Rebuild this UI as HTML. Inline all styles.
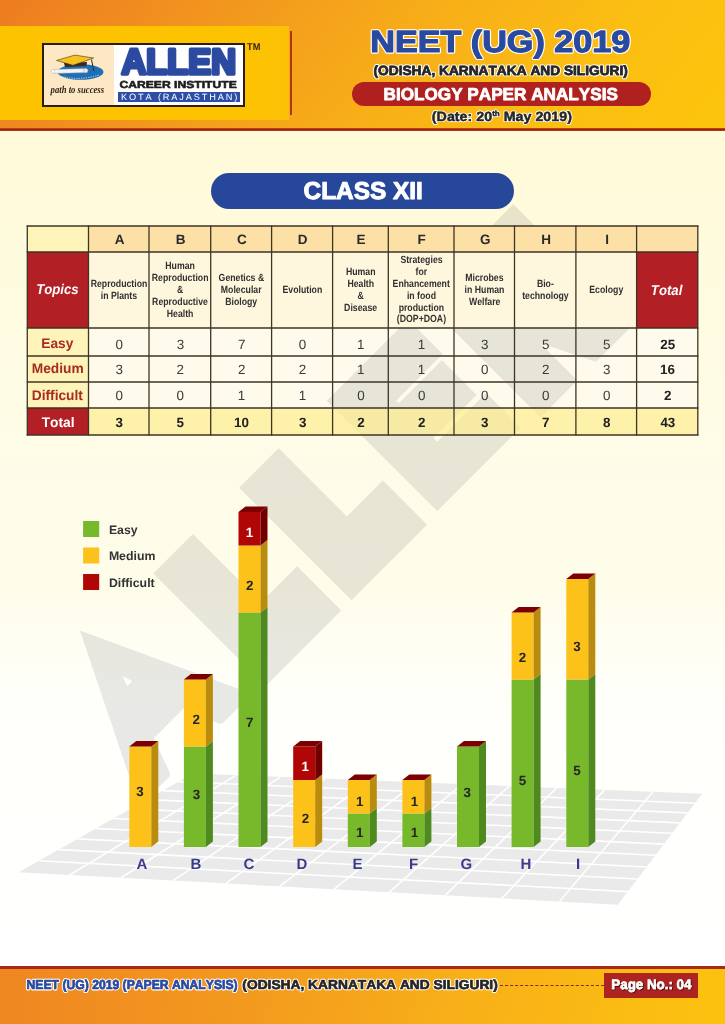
<!DOCTYPE html>
<html><head><meta charset="utf-8">
<style>
*{margin:0;padding:0;box-sizing:border-box}
html,body{width:725px;height:1024px;overflow:hidden}
body{position:relative;font-family:"Liberation Sans",Arial,sans-serif;background:linear-gradient(180deg,#fffad8 130px,#fffbe0 300px,#fefce8 470px,#fefdea 590px,#fffffa 690px,#ffffff 965px)}
.abs{position:absolute}
svg{position:absolute;left:0;top:0;overflow:visible}
svg text{font-family:"Liberation Sans",Arial,sans-serif;font-kerning:none;text-rendering:geometricPrecision}
#hdr{position:absolute;left:0;top:0;width:725px;height:129px;background:linear-gradient(128deg,#ed7c20 0%,#f08a20 15%,#f4a01c 38%,#f8b117 58%,#fbbe12 78%,#fdc50c 100%)}
#hdrline{position:absolute;left:0;top:128px;width:725px;height:3px;background:linear-gradient(180deg,#d8561c 0,#9c2410 40%,#9c2410 80%,#e8a070 100%)}
#panel{position:absolute;left:0;top:26px;width:289px;height:94px;background:linear-gradient(90deg,#fdc200,#fdc300 80%,#fcc106)}
#vline{position:absolute;left:290px;top:31px;width:2px;height:84px;background:#b3341a}
#logo{position:absolute;left:42px;top:43px;width:203px;height:64px;border:2px solid #2a1e12;background:#fff}
#logoL{position:absolute;left:0;top:0;width:70px;height:60px;background:#fde7c5}
#wm{mix-blend-mode:multiply}
</style></head>
<body>
<div id="hdr"></div>
<div id="panel"></div>
<div id="vline"></div>
<div id="hdrline"></div>
<div id="logo"><div id="logoL"></div></div>
<div class="abs" style="left:117.7px;top:91.8px;width:121.9px;height:10.4px;background:#2c4ea6"></div>
<div class="abs" style="left:351.5px;top:81.6px;width:299.5px;height:24.2px;border-radius:12.1px;background:#b0201f"></div>
<div class="abs" style="left:211px;top:173px;width:303px;height:36px;border-radius:18px;background:#27479b"></div>

<svg width="725" height="1024" viewBox="0 0 725 1024">
<rect x="27.3" y="226.0" width="61.2" height="26.0" fill="#fef3b8"/>
<rect x="88.5" y="226.0" width="609.3" height="26.0" fill="#fde0a6"/>
<rect x="27.3" y="252.0" width="61.2" height="76.0" fill="#b21f24"/>
<rect x="88.5" y="252.0" width="548.1" height="76.0" fill="#fef6dd"/>
<rect x="636.6" y="252.0" width="61.2" height="76.0" fill="#b21f24"/>
<rect x="27.3" y="328.0" width="61.2" height="80.0" fill="#fef3b8"/>
<rect x="88.5" y="328.0" width="609.3" height="80.0" fill="#fefbec"/>
<rect x="27.3" y="408.0" width="61.2" height="27.0" fill="#b21f24"/>
<rect x="88.5" y="408.0" width="609.3" height="27.0" fill="#fdf1a9"/>
</svg>

<svg id="wm" width="725" height="1024" viewBox="0 0 725 1024">
<g transform="translate(140.4 811.6) rotate(-45) scale(6) translate(-120.4 -76.3)"><clipPath id="wmA"><polygon points="120.9,75.6 134.6,47.9 147.4,75.6"/></clipPath><g clip-path="url(#wmA)"><text transform="translate(119.27 73.90) scale(1.0218 1)" font-size="40.55" font-weight="bold" font-style="normal" style='font-family:"Liberation Sans",Arial,sans-serif' fill="#e8e8ea" stroke="#e8e8ea" stroke-width="4.89" stroke-linejoin="round" >A</text></g><text transform="translate(151.46 72.60) scale(0.8239 1)" font-size="27.91" font-weight="bold" font-style="normal" style='font-family:"Liberation Sans",Arial,sans-serif' fill="#e8e8ea" stroke="#e8e8ea" stroke-width="7.28" stroke-linejoin="miter" >L</text><text transform="translate(171.66 72.60) scale(0.8239 1)" font-size="27.91" font-weight="bold" font-style="normal" style='font-family:"Liberation Sans",Arial,sans-serif' fill="#e8e8ea" stroke="#e8e8ea" stroke-width="7.28" stroke-linejoin="miter" >L</text><text transform="translate(191.05 73.50) scale(0.8924 1)" font-size="30.96" font-weight="bold" font-style="normal" style='font-family:"Liberation Sans",Arial,sans-serif' fill="#e8e8ea" stroke="#e8e8ea" stroke-width="4.71" stroke-linejoin="miter" >E</text><text transform="translate(214.58 74.10) scale(0.8751 1)" font-size="32.85" font-weight="bold" font-style="normal" style='font-family:"Liberation Sans",Arial,sans-serif' fill="#e8e8ea" stroke="#e8e8ea" stroke-width="5.71" stroke-linejoin="miter" >N</text></g>
</svg>

<svg width="725" height="1024" viewBox="0 0 725 1024">
<rect x="27.3" y="226.0" width="61.2" height="26.0" fill="#fef3b8"/>
<rect x="88.5" y="226.0" width="609.3" height="26.0" fill="#fde0a6"/>
<rect x="27.3" y="252.0" width="61.2" height="76.0" fill="#b21f24"/>
<rect x="88.5" y="252.0" width="548.1" height="76.0" fill="#fef6dd"/>
<rect x="636.6" y="252.0" width="61.2" height="76.0" fill="#b21f24"/>
<g opacity="0.7"><rect x="88.5" y="408.0" width="609.3" height="27.0" fill="#fdf1a9"/></g><line x1="27.3" y1="225.4" x2="27.3" y2="435.6" stroke="#3d3526" stroke-width="1.3"/>
<line x1="88.5" y1="225.4" x2="88.5" y2="435.6" stroke="#3d3526" stroke-width="1.3"/>
<line x1="149.0" y1="225.4" x2="149.0" y2="435.6" stroke="#3d3526" stroke-width="1.3"/>
<line x1="210.7" y1="225.4" x2="210.7" y2="435.6" stroke="#3d3526" stroke-width="1.3"/>
<line x1="271.6" y1="225.4" x2="271.6" y2="435.6" stroke="#3d3526" stroke-width="1.3"/>
<line x1="332.6" y1="225.4" x2="332.6" y2="435.6" stroke="#3d3526" stroke-width="1.3"/>
<line x1="388.3" y1="225.4" x2="388.3" y2="435.6" stroke="#3d3526" stroke-width="1.3"/>
<line x1="454.0" y1="225.4" x2="454.0" y2="435.6" stroke="#3d3526" stroke-width="1.3"/>
<line x1="514.5" y1="225.4" x2="514.5" y2="435.6" stroke="#3d3526" stroke-width="1.3"/>
<line x1="575.9" y1="225.4" x2="575.9" y2="435.6" stroke="#3d3526" stroke-width="1.3"/>
<line x1="636.6" y1="225.4" x2="636.6" y2="435.6" stroke="#3d3526" stroke-width="1.3"/>
<line x1="697.8" y1="225.4" x2="697.8" y2="435.6" stroke="#3d3526" stroke-width="1.3"/>
<line x1="26.7" y1="226.0" x2="698.4" y2="226.0" stroke="#3d3526" stroke-width="1.3"/>
<line x1="26.7" y1="252.0" x2="698.4" y2="252.0" stroke="#3d3526" stroke-width="1.3"/>
<line x1="26.7" y1="328.0" x2="698.4" y2="328.0" stroke="#3d3526" stroke-width="1.3"/>
<line x1="26.7" y1="356.0" x2="698.4" y2="356.0" stroke="#3d3526" stroke-width="1.3"/>
<line x1="26.7" y1="382.0" x2="698.4" y2="382.0" stroke="#3d3526" stroke-width="1.3"/>
<line x1="26.7" y1="408.0" x2="698.4" y2="408.0" stroke="#3d3526" stroke-width="1.3"/>
<line x1="26.7" y1="435.0" x2="698.4" y2="435.0" stroke="#3d3526" stroke-width="1.3"/>
</svg>

<svg width="725" height="1024" viewBox="0 0 725 1024">
<polygon points="18.7,872.2 617.8,904.7 702.2,793.8 192.9,773.4" fill="#eaeaea"/>
<line x1="39.0" y1="860.7" x2="627.8" y2="891.6" stroke="#fff" stroke-width="1.6"/>
<line x1="58.6" y1="849.6" x2="637.3" y2="879.0" stroke="#fff" stroke-width="1.6"/>
<line x1="77.5" y1="838.9" x2="646.5" y2="867.0" stroke="#fff" stroke-width="1.6"/>
<line x1="95.7" y1="828.5" x2="655.4" y2="855.3" stroke="#fff" stroke-width="1.6"/>
<line x1="113.3" y1="818.5" x2="663.9" y2="844.1" stroke="#fff" stroke-width="1.6"/>
<line x1="130.3" y1="808.9" x2="672.1" y2="833.3" stroke="#fff" stroke-width="1.6"/>
<line x1="146.7" y1="799.6" x2="680.0" y2="822.9" stroke="#fff" stroke-width="1.6"/>
<line x1="162.6" y1="790.6" x2="687.7" y2="812.9" stroke="#fff" stroke-width="1.6"/>
<line x1="178.0" y1="781.8" x2="695.1" y2="803.2" stroke="#fff" stroke-width="1.6"/>
<line x1="69.5" y1="875.0" x2="236.6" y2="775.1" stroke="#fff" stroke-width="1.6"/>
<line x1="120.9" y1="877.7" x2="280.7" y2="776.9" stroke="#fff" stroke-width="1.6"/>
<line x1="173.1" y1="880.6" x2="325.4" y2="778.7" stroke="#fff" stroke-width="1.6"/>
<line x1="226.0" y1="883.4" x2="370.6" y2="780.5" stroke="#fff" stroke-width="1.6"/>
<line x1="279.6" y1="886.4" x2="416.3" y2="782.3" stroke="#fff" stroke-width="1.6"/>
<line x1="334.0" y1="889.3" x2="462.5" y2="784.2" stroke="#fff" stroke-width="1.6"/>
<line x1="389.1" y1="892.3" x2="509.3" y2="786.1" stroke="#fff" stroke-width="1.6"/>
<line x1="445.1" y1="895.3" x2="556.7" y2="788.0" stroke="#fff" stroke-width="1.6"/>
<line x1="501.8" y1="898.4" x2="604.6" y2="789.9" stroke="#fff" stroke-width="1.6"/>
<line x1="559.4" y1="901.5" x2="653.1" y2="791.8" stroke="#fff" stroke-width="1.6"/>
<rect x="129.3" y="746.5" width="22.0" height="100.5" fill="#fdc219"/><polygon points="151.3,746.5 158.3,740.9 158.3,841.4 151.3,847.0" fill="#b98c0e"/>
<polygon points="129.3,746.5 151.3,746.5 158.3,740.9 136.3,740.9" fill="#7c0000"/>
<text transform="translate(136.16 795.95) scale(1.0000 1)" font-size="13.40" font-weight="bold" font-style="normal" fill="#262626" >3</text>
<text transform="translate(136.49 869.00) scale(1.0000 1)" font-size="15.00" font-weight="bold" font-style="normal" fill="#3b3b8e" >A</text>
<rect x="183.9" y="746.5" width="22.0" height="100.5" fill="#78b82b"/><polygon points="205.9,746.5 212.9,740.9 212.9,841.4 205.9,847.0" fill="#4f8a1f"/>
<rect x="183.9" y="679.5" width="22.0" height="67.0" fill="#fdc219"/><polygon points="205.9,679.5 212.9,673.9 212.9,740.9 205.9,746.5" fill="#b98c0e"/>
<polygon points="183.9,679.5 205.9,679.5 212.9,673.9 190.9,673.9" fill="#7c0000"/>
<text transform="translate(192.66 798.75) scale(1.0000 1)" font-size="13.40" font-weight="bold" font-style="normal" fill="#262626" >3</text>
<text transform="translate(192.61 723.75) scale(1.0000 1)" font-size="13.40" font-weight="bold" font-style="normal" fill="#262626" >2</text>
<text transform="translate(190.42 869.00) scale(1.0000 1)" font-size="15.00" font-weight="bold" font-style="normal" fill="#3b3b8e" >B</text>
<rect x="238.5" y="612.5" width="22.0" height="234.5" fill="#78b82b"/><polygon points="260.5,612.5 267.5,606.9 267.5,841.4 260.5,847.0" fill="#4f8a1f"/>
<rect x="238.5" y="545.5" width="22.0" height="67.0" fill="#fdc219"/><polygon points="260.5,545.5 267.5,539.9 267.5,606.9 260.5,612.5" fill="#b98c0e"/>
<rect x="238.5" y="512.0" width="22.0" height="33.5" fill="#b00606"/><polygon points="260.5,512.0 267.5,506.4 267.5,539.9 260.5,545.5" fill="#730000"/>
<polygon points="238.5,512.0 260.5,512.0 267.5,506.4 245.5,506.4" fill="#7c0000"/>
<text transform="translate(245.88 727.25) scale(1.0000 1)" font-size="13.40" font-weight="bold" font-style="normal" fill="#262626" >7</text>
<text transform="translate(245.91 589.95) scale(1.0000 1)" font-size="13.40" font-weight="bold" font-style="normal" fill="#262626" >2</text>
<text transform="translate(245.64 537.05) scale(1.0000 1)" font-size="13.40" font-weight="bold" font-style="normal" fill="#fff" >1</text>
<text transform="translate(243.38 869.00) scale(1.0000 1)" font-size="15.00" font-weight="bold" font-style="normal" fill="#3b3b8e" >C</text>
<rect x="293.2" y="780.0" width="22.0" height="67.0" fill="#fdc219"/><polygon points="315.2,780.0 322.2,774.4 322.2,841.4 315.2,847.0" fill="#b98c0e"/>
<rect x="293.2" y="746.5" width="22.0" height="33.5" fill="#b00606"/><polygon points="315.2,746.5 322.2,740.9 322.2,774.4 315.2,780.0" fill="#730000"/>
<polygon points="293.2,746.5 315.2,746.5 322.2,740.9 300.2,740.9" fill="#7c0000"/>
<text transform="translate(301.81 823.45) scale(1.0000 1)" font-size="13.40" font-weight="bold" font-style="normal" fill="#262626" >2</text>
<text transform="translate(301.54 770.85) scale(1.0000 1)" font-size="13.40" font-weight="bold" font-style="normal" fill="#fff" >1</text>
<text transform="translate(296.50 869.00) scale(1.0000 1)" font-size="15.00" font-weight="bold" font-style="normal" fill="#3b3b8e" >D</text>
<rect x="347.8" y="813.5" width="22.0" height="33.5" fill="#78b82b"/><polygon points="369.8,813.5 376.8,807.9 376.8,841.4 369.8,847.0" fill="#4f8a1f"/>
<rect x="347.8" y="780.0" width="22.0" height="33.5" fill="#fdc219"/><polygon points="369.8,780.0 376.8,774.4 376.8,807.9 369.8,813.5" fill="#b98c0e"/>
<polygon points="347.8,780.0 369.8,780.0 376.8,774.4 354.8,774.4" fill="#7c0000"/>
<text transform="translate(356.04 837.35) scale(1.0000 1)" font-size="13.40" font-weight="bold" font-style="normal" fill="#262626" >1</text>
<text transform="translate(356.04 805.75) scale(1.0000 1)" font-size="13.40" font-weight="bold" font-style="normal" fill="#262626" >1</text>
<text transform="translate(352.59 869.00) scale(1.0000 1)" font-size="15.00" font-weight="bold" font-style="normal" fill="#3b3b8e" >E</text>
<rect x="402.4" y="813.5" width="22.0" height="33.5" fill="#78b82b"/><polygon points="424.4,813.5 431.4,807.9 431.4,841.4 424.4,847.0" fill="#4f8a1f"/>
<rect x="402.4" y="780.0" width="22.0" height="33.5" fill="#fdc219"/><polygon points="424.4,780.0 431.4,774.4 431.4,807.9 424.4,813.5" fill="#b98c0e"/>
<polygon points="402.4,780.0 424.4,780.0 431.4,774.4 409.4,774.4" fill="#7c0000"/>
<text transform="translate(410.64 837.35) scale(1.0000 1)" font-size="13.40" font-weight="bold" font-style="normal" fill="#262626" >1</text>
<text transform="translate(410.64 805.75) scale(1.0000 1)" font-size="13.40" font-weight="bold" font-style="normal" fill="#262626" >1</text>
<text transform="translate(408.99 869.00) scale(1.0000 1)" font-size="15.00" font-weight="bold" font-style="normal" fill="#3b3b8e" >F</text>
<rect x="457.0" y="746.5" width="22.0" height="100.5" fill="#78b82b"/><polygon points="479.0,746.5 486.0,740.9 486.0,841.4 479.0,847.0" fill="#4f8a1f"/>
<polygon points="457.0,746.5 479.0,746.5 486.0,740.9 464.0,740.9" fill="#7c0000"/>
<text transform="translate(463.56 796.95) scale(1.0000 1)" font-size="13.40" font-weight="bold" font-style="normal" fill="#262626" >3</text>
<text transform="translate(460.62 869.00) scale(1.0000 1)" font-size="15.00" font-weight="bold" font-style="normal" fill="#3b3b8e" >G</text>
<rect x="511.6" y="679.5" width="22.0" height="167.5" fill="#78b82b"/><polygon points="533.6,679.5 540.6,673.9 540.6,841.4 533.6,847.0" fill="#4f8a1f"/>
<rect x="511.6" y="612.5" width="22.0" height="67.0" fill="#fdc219"/><polygon points="533.6,612.5 540.6,606.9 540.6,673.9 533.6,679.5" fill="#b98c0e"/>
<polygon points="511.6,612.5 533.6,612.5 540.6,606.9 518.6,606.9" fill="#7c0000"/>
<text transform="translate(518.75 785.05) scale(1.0000 1)" font-size="13.40" font-weight="bold" font-style="normal" fill="#262626" >5</text>
<text transform="translate(518.81 661.55) scale(1.0000 1)" font-size="13.40" font-weight="bold" font-style="normal" fill="#262626" >2</text>
<text transform="translate(520.59 869.00) scale(1.0000 1)" font-size="15.00" font-weight="bold" font-style="normal" fill="#3b3b8e" >H</text>
<rect x="566.3" y="679.5" width="22.0" height="167.5" fill="#78b82b"/><polygon points="588.3,679.5 595.3,673.9 595.3,841.4 588.3,847.0" fill="#4f8a1f"/>
<rect x="566.3" y="579.0" width="22.0" height="100.5" fill="#fdc219"/><polygon points="588.3,579.0 595.3,573.4 595.3,673.9 588.3,679.5" fill="#b98c0e"/>
<polygon points="566.3,579.0 588.3,579.0 595.3,573.4 573.3,573.4" fill="#7c0000"/>
<text transform="translate(573.15 774.65) scale(1.0000 1)" font-size="13.40" font-weight="bold" font-style="normal" fill="#262626" >5</text>
<text transform="translate(573.26 651.25) scale(1.0000 1)" font-size="13.40" font-weight="bold" font-style="normal" fill="#262626" >3</text>
<text transform="translate(576.12 869.00) scale(1.0000 1)" font-size="15.00" font-weight="bold" font-style="normal" fill="#3b3b8e" >I</text>
<rect x="83.1" y="521.0" width="16.1" height="16" fill="#78b82b"/>
<text transform="translate(108.88 533.50) scale(1.0000 1)" font-size="12.30" font-weight="bold" font-style="normal" style='font-family:"Liberation Sans",Arial,sans-serif' fill="#333"  >Easy</text>
<rect x="83.1" y="547.5" width="16.1" height="16" fill="#fdc219"/>
<text transform="translate(108.88 560.00) scale(1.0000 1)" font-size="12.30" font-weight="bold" font-style="normal" style='font-family:"Liberation Sans",Arial,sans-serif' fill="#333"  >Medium</text>
<rect x="83.1" y="574.0" width="16.1" height="16" fill="#b00606"/>
<text transform="translate(108.88 586.50) scale(1.0000 1)" font-size="12.30" font-weight="bold" font-style="normal" style='font-family:"Liberation Sans",Arial,sans-serif' fill="#333"  >Difficult</text>
</svg>

<div class="abs" style="left:0;top:966px;width:725px;height:58px;background:linear-gradient(100deg,#ef8622 0%,#f39a1e 35%,#f8b118 65%,#fcc20f 100%)"></div>
<div class="abs" style="left:0;top:965.7px;width:725px;height:2.9px;background:#a82a14"></div>
<div class="abs" style="left:500px;top:985px;width:104px;height:0;border-top:1px dashed #8a2a1a"></div>
<div class="abs" style="left:604.3px;top:973.3px;width:93.7px;height:24.4px;background:#ad2320"></div>

<svg width="725" height="1024" viewBox="0 0 725 1024">
<defs><filter id="sh" x="-10%" y="-30%" width="120%" height="160%"><feDropShadow dx="0.8" dy="0.8" stdDeviation="0.6" flood-color="#2a0505" flood-opacity="0.9"/></filter></defs>

<ellipse cx="80.5" cy="72" rx="23" ry="7.8" fill="#1f6fb5"/>
<path d="M52.5,69.5 L86,68.6 L87,72.6 L53,73.4 Z" fill="#f4f4f0" stroke="#b0a090" stroke-width="0.4"/>
<ellipse cx="53" cy="71.4" rx="1.6" ry="2.1" fill="#fff" stroke="#b0a090" stroke-width="0.4"/>
<circle cx="85.8" cy="70.6" r="2.2" fill="#e8eef8" stroke="#8090a0" stroke-width="0.4"/>
<path d="M64,63 L87,62 L86.5,66 L65,67 Z" fill="#3a2a20"/>
<path d="M56.5,60.4 L74.9,55.1 L93.7,58 L73,65.3 Z" fill="#f5c21e" stroke="#4a3410" stroke-width="0.6"/>
<path d="M91.5,59.5 L93.8,71" stroke="#2a2a2a" stroke-width="1"/>
<path d="M62,76.5 Q80,81 99,75" stroke="#cfe0f0" stroke-width="1" fill="none" stroke-dasharray="1.2 1.2"/>

<text transform="translate(114.69 244.00) scale(1.0000 1)" font-size="13.50" font-weight="bold" font-style="normal" fill="#2a2a2a" >A</text>
<text transform="translate(175.63 244.00) scale(1.0000 1)" font-size="13.50" font-weight="bold" font-style="normal" fill="#2a2a2a" >B</text>
<text transform="translate(236.98 244.00) scale(1.0000 1)" font-size="13.50" font-weight="bold" font-style="normal" fill="#2a2a2a" >C</text>
<text transform="translate(297.86 244.00) scale(1.0000 1)" font-size="13.50" font-weight="bold" font-style="normal" fill="#2a2a2a" >D</text>
<text transform="translate(356.56 244.00) scale(1.0000 1)" font-size="13.50" font-weight="bold" font-style="normal" fill="#2a2a2a" >E</text>
<text transform="translate(417.62 244.00) scale(1.0000 1)" font-size="13.50" font-weight="bold" font-style="normal" fill="#2a2a2a" >F</text>
<text transform="translate(479.94 244.00) scale(1.0000 1)" font-size="13.50" font-weight="bold" font-style="normal" fill="#2a2a2a" >G</text>
<text transform="translate(541.13 244.00) scale(1.0000 1)" font-size="13.50" font-weight="bold" font-style="normal" fill="#2a2a2a" >H</text>
<text transform="translate(605.17 244.00) scale(1.0000 1)" font-size="13.50" font-weight="bold" font-style="normal" fill="#2a2a2a" >I</text>
<text transform="translate(36.18 293.80) scale(0.9300 1)" font-size="14.20" font-weight="bold" font-style="italic" fill="#fff" >Topics</text>
<text transform="translate(650.85 295.00) scale(0.9300 1)" font-size="14.20" font-weight="bold" font-style="italic" fill="#fff" >Total</text>
<text transform="translate(90.64 286.88) scale(0.8400 1)" font-size="10.40" font-weight="bold" font-style="normal" fill="#303030" >Reproduction</text>
<text transform="translate(100.72 298.73) scale(0.8400 1)" font-size="10.40" font-weight="bold" font-style="normal" fill="#303030" >in Plants</text>
<text transform="translate(165.32 269.10) scale(0.8400 1)" font-size="10.40" font-weight="bold" font-style="normal" fill="#303030" >Human</text>
<text transform="translate(151.74 280.95) scale(0.8400 1)" font-size="10.40" font-weight="bold" font-style="normal" fill="#303030" >Reproduction</text>
<text transform="translate(176.94 292.80) scale(0.8400 1)" font-size="10.40" font-weight="bold" font-style="normal" fill="#303030" >&amp;</text>
<text transform="translate(152.09 304.65) scale(0.8400 1)" font-size="10.40" font-weight="bold" font-style="normal" fill="#303030" >Reproductive</text>
<text transform="translate(166.78 316.50) scale(0.8400 1)" font-size="10.40" font-weight="bold" font-style="normal" fill="#303030" >Health</text>
<text transform="translate(218.59 280.95) scale(0.8400 1)" font-size="10.40" font-weight="bold" font-style="normal" fill="#303030" >Genetics &amp;</text>
<text transform="translate(220.83 292.80) scale(0.8400 1)" font-size="10.40" font-weight="bold" font-style="normal" fill="#303030" >Molecular</text>
<text transform="translate(225.17 304.65) scale(0.8400 1)" font-size="10.40" font-weight="bold" font-style="normal" fill="#303030" >Biology</text>
<text transform="translate(282.48 292.80) scale(0.8400 1)" font-size="10.40" font-weight="bold" font-style="normal" fill="#303030" >Evolution</text>
<text transform="translate(345.92 275.03) scale(0.8400 1)" font-size="10.40" font-weight="bold" font-style="normal" fill="#303030" >Human</text>
<text transform="translate(347.38 286.88) scale(0.8400 1)" font-size="10.40" font-weight="bold" font-style="normal" fill="#303030" >Health</text>
<text transform="translate(357.54 298.73) scale(0.8400 1)" font-size="10.40" font-weight="bold" font-style="normal" fill="#303030" >&amp;</text>
<text transform="translate(344.09 310.58) scale(0.8400 1)" font-size="10.40" font-weight="bold" font-style="normal" fill="#303030" >Disease</text>
<text transform="translate(400.38 263.18) scale(0.8400 1)" font-size="10.40" font-weight="bold" font-style="normal" fill="#303030" >Strategies</text>
<text transform="translate(415.62 275.03) scale(0.8400 1)" font-size="10.40" font-weight="bold" font-style="normal" fill="#303030" >for</text>
<text transform="translate(392.57 286.88) scale(0.8400 1)" font-size="10.40" font-weight="bold" font-style="normal" fill="#303030" >Enhancement</text>
<text transform="translate(406.88 298.73) scale(0.8400 1)" font-size="10.40" font-weight="bold" font-style="normal" fill="#303030" >in food</text>
<text transform="translate(398.63 310.57) scale(0.8400 1)" font-size="10.40" font-weight="bold" font-style="normal" fill="#303030" >production</text>
<text transform="translate(396.82 322.43) scale(0.8400 1)" font-size="10.40" font-weight="bold" font-style="normal" fill="#303030" >(DOP+DOA)</text>
<text transform="translate(465.26 280.95) scale(0.8400 1)" font-size="10.40" font-weight="bold" font-style="normal" fill="#303030" >Microbes</text>
<text transform="translate(464.62 292.80) scale(0.8400 1)" font-size="10.40" font-weight="bold" font-style="normal" fill="#303030" >in Human</text>
<text transform="translate(468.92 304.65) scale(0.8400 1)" font-size="10.40" font-weight="bold" font-style="normal" fill="#303030" >Welfare</text>
<text transform="translate(536.89 286.88) scale(0.8400 1)" font-size="10.40" font-weight="bold" font-style="normal" fill="#303030" >Bio-</text>
<text transform="translate(522.17 298.73) scale(0.8400 1)" font-size="10.40" font-weight="bold" font-style="normal" fill="#303030" >technology</text>
<text transform="translate(589.29 292.80) scale(0.8400 1)" font-size="10.40" font-weight="bold" font-style="normal" fill="#303030" >Ecology</text>
<text transform="translate(41.26 347.80) scale(0.9800 1)" font-size="14.00" font-weight="bold" font-style="normal" fill="#a62b20" >Easy</text>
<text transform="translate(115.52 349.40) scale(1.0000 1)" font-size="13.40" font-weight="normal" font-style="normal" fill="#3a3a3a" >0</text>
<text transform="translate(176.66 349.40) scale(1.0000 1)" font-size="13.40" font-weight="normal" font-style="normal" fill="#3a3a3a" >3</text>
<text transform="translate(237.92 349.40) scale(1.0000 1)" font-size="13.40" font-weight="normal" font-style="normal" fill="#3a3a3a" >7</text>
<text transform="translate(298.87 349.40) scale(1.0000 1)" font-size="13.40" font-weight="normal" font-style="normal" fill="#3a3a3a" >0</text>
<text transform="translate(357.04 349.40) scale(1.0000 1)" font-size="13.40" font-weight="normal" font-style="normal" fill="#3a3a3a" >1</text>
<text transform="translate(417.74 349.40) scale(1.0000 1)" font-size="13.40" font-weight="normal" font-style="normal" fill="#3a3a3a" >1</text>
<text transform="translate(481.06 349.40) scale(1.0000 1)" font-size="13.40" font-weight="normal" font-style="normal" fill="#3a3a3a" >3</text>
<text transform="translate(541.99 349.40) scale(1.0000 1)" font-size="13.40" font-weight="normal" font-style="normal" fill="#3a3a3a" >5</text>
<text transform="translate(603.04 349.40) scale(1.0000 1)" font-size="13.40" font-weight="normal" font-style="normal" fill="#3a3a3a" >5</text>
<text transform="translate(660.20 349.40) scale(1.0000 1)" font-size="13.40" font-weight="bold" font-style="normal" fill="#222" >25</text>
<text transform="translate(31.75 372.60) scale(0.9800 1)" font-size="14.00" font-weight="bold" font-style="normal" fill="#a62b20" >Medium</text>
<text transform="translate(115.56 374.20) scale(1.0000 1)" font-size="13.40" font-weight="normal" font-style="normal" fill="#3a3a3a" >3</text>
<text transform="translate(176.62 374.20) scale(1.0000 1)" font-size="13.40" font-weight="normal" font-style="normal" fill="#3a3a3a" >2</text>
<text transform="translate(237.92 374.20) scale(1.0000 1)" font-size="13.40" font-weight="normal" font-style="normal" fill="#3a3a3a" >2</text>
<text transform="translate(298.87 374.20) scale(1.0000 1)" font-size="13.40" font-weight="normal" font-style="normal" fill="#3a3a3a" >2</text>
<text transform="translate(357.04 374.20) scale(1.0000 1)" font-size="13.40" font-weight="normal" font-style="normal" fill="#3a3a3a" >1</text>
<text transform="translate(417.74 374.20) scale(1.0000 1)" font-size="13.40" font-weight="normal" font-style="normal" fill="#3a3a3a" >1</text>
<text transform="translate(481.02 374.20) scale(1.0000 1)" font-size="13.40" font-weight="normal" font-style="normal" fill="#3a3a3a" >0</text>
<text transform="translate(541.97 374.20) scale(1.0000 1)" font-size="13.40" font-weight="normal" font-style="normal" fill="#3a3a3a" >2</text>
<text transform="translate(603.06 374.20) scale(1.0000 1)" font-size="13.40" font-weight="normal" font-style="normal" fill="#3a3a3a" >3</text>
<text transform="translate(660.07 374.20) scale(1.0000 1)" font-size="13.40" font-weight="bold" font-style="normal" fill="#222" >16</text>
<text transform="translate(31.79 400.40) scale(0.9800 1)" font-size="14.00" font-weight="bold" font-style="normal" fill="#a62b20" >Difficult</text>
<text transform="translate(115.52 400.20) scale(1.0000 1)" font-size="13.40" font-weight="normal" font-style="normal" fill="#3a3a3a" >0</text>
<text transform="translate(176.62 400.20) scale(1.0000 1)" font-size="13.40" font-weight="normal" font-style="normal" fill="#3a3a3a" >0</text>
<text transform="translate(237.74 400.20) scale(1.0000 1)" font-size="13.40" font-weight="normal" font-style="normal" fill="#3a3a3a" >1</text>
<text transform="translate(298.69 400.20) scale(1.0000 1)" font-size="13.40" font-weight="normal" font-style="normal" fill="#3a3a3a" >1</text>
<text transform="translate(357.22 400.20) scale(1.0000 1)" font-size="13.40" font-weight="normal" font-style="normal" fill="#3a3a3a" >0</text>
<text transform="translate(417.92 400.20) scale(1.0000 1)" font-size="13.40" font-weight="normal" font-style="normal" fill="#3a3a3a" >0</text>
<text transform="translate(481.02 400.20) scale(1.0000 1)" font-size="13.40" font-weight="normal" font-style="normal" fill="#3a3a3a" >0</text>
<text transform="translate(541.97 400.20) scale(1.0000 1)" font-size="13.40" font-weight="normal" font-style="normal" fill="#3a3a3a" >0</text>
<text transform="translate(603.02 400.20) scale(1.0000 1)" font-size="13.40" font-weight="normal" font-style="normal" fill="#3a3a3a" >0</text>
<text transform="translate(664.01 400.20) scale(1.0000 1)" font-size="13.40" font-weight="bold" font-style="normal" fill="#222" >2</text>
<text transform="translate(41.63 427.00) scale(1.0000 1)" font-size="13.80" font-weight="bold" font-style="normal" fill="#fff" >Total</text>
<text transform="translate(115.61 426.60) scale(1.0000 1)" font-size="13.40" font-weight="bold" font-style="normal" fill="#222" >3</text>
<text transform="translate(176.60 426.60) scale(1.0000 1)" font-size="13.40" font-weight="bold" font-style="normal" fill="#222" >5</text>
<text transform="translate(234.05 426.60) scale(1.0000 1)" font-size="13.40" font-weight="bold" font-style="normal" fill="#222" >10</text>
<text transform="translate(298.96 426.60) scale(1.0000 1)" font-size="13.40" font-weight="bold" font-style="normal" fill="#222" >3</text>
<text transform="translate(357.26 426.60) scale(1.0000 1)" font-size="13.40" font-weight="bold" font-style="normal" fill="#222" >2</text>
<text transform="translate(417.96 426.60) scale(1.0000 1)" font-size="13.40" font-weight="bold" font-style="normal" fill="#222" >2</text>
<text transform="translate(481.11 426.60) scale(1.0000 1)" font-size="13.40" font-weight="bold" font-style="normal" fill="#222" >3</text>
<text transform="translate(541.98 426.60) scale(1.0000 1)" font-size="13.40" font-weight="bold" font-style="normal" fill="#222" >7</text>
<text transform="translate(603.02 426.60) scale(1.0000 1)" font-size="13.40" font-weight="bold" font-style="normal" fill="#222" >8</text>
<text transform="translate(660.39 426.60) scale(1.0000 1)" font-size="13.40" font-weight="bold" font-style="normal" fill="#222" >43</text>
<text transform="translate(121.54 74.40) scale(0.9614 1)" font-size="35.76" font-weight="bold" font-style="normal" style='font-family:"Liberation Sans",Arial,sans-serif' fill="#2b4aa0" stroke="#2b4aa0" stroke-width="3.74" stroke-linejoin="round" >ALLEN</text>
<text transform="translate(119.45 87.85) scale(1.1944 1)" font-size="10.17" font-weight="bold" font-style="normal" style='font-family:"Liberation Sans",Arial,sans-serif' fill="#1e1e1e" stroke="#1e1e1e" stroke-width="0.59" stroke-linejoin="round" >CAREER INSTITUTE</text>
<text x="121.05" y="100.3" font-size="9.2" letter-spacing="1.866" fill="#fff">KOTA (RAJASTHAN)</text>
<text transform="translate(247.10 50.40) scale(0.9334 1)" font-size="9.88" font-weight="bold" font-style="normal" style='font-family:"Liberation Sans",Arial,sans-serif' fill="#3a2410"  >TM</text>
<text transform="translate(50.62 93.40) scale(0.8254 1)" font-size="10.50" font-weight="bold" font-style="italic" style='font-family:"Liberation Serif",serif' fill="#2e2418"  >path to success</text>
<text transform="translate(370.37 52.35) scale(1.1129 1)" font-size="30.67" font-weight="bold" font-style="normal" style='font-family:"Liberation Sans",Arial,sans-serif' fill="#fff" stroke="#fff" stroke-width="3.32" stroke-linejoin="round">NEET (UG) 2019</text><text transform="translate(370.37 52.35) scale(1.1129 1)" font-size="30.67" font-weight="bold" font-style="normal" style='font-family:"Liberation Sans",Arial,sans-serif' fill="#2a4aa0" stroke="#2a4aa0" stroke-width="1.17" stroke-linejoin="round" >NEET (UG) 2019</text>
<text transform="translate(373.52 75.00) scale(1.0260 1)" font-size="13.37" font-weight="bold" font-style="normal" style='font-family:"Liberation Sans",Arial,sans-serif' fill="#fff" stroke="#fff" stroke-width="2.73" stroke-linejoin="round">(ODISHA, KARNATAKA AND SILIGURI)</text><text transform="translate(373.52 75.00) scale(1.0260 1)" font-size="13.37" font-weight="bold" font-style="normal" style='font-family:"Liberation Sans",Arial,sans-serif' fill="#262626" stroke="#262626" stroke-width="0.78" stroke-linejoin="round" >(ODISHA, KARNATAKA AND SILIGURI)</text>
<text transform="translate(383.55 99.80) scale(0.9920 1)" font-size="17.30" font-weight="bold" font-style="normal" style='font-family:"Liberation Sans",Arial,sans-serif' fill="#fff" stroke="#fff" stroke-width="0.81" stroke-linejoin="round" >BIOLOGY PAPER ANALYSIS</text>
<text transform="translate(431.84 121.3) scale(1.0659 1)" font-size="13.4" font-weight="bold" fill="#fff" stroke="#fff" stroke-width="2.16" stroke-linejoin="round">(Date: 20<tspan font-size="7.5" dy="-5.5">th</tspan><tspan dy="5.5"> May 2019)</tspan></text>
<text transform="translate(431.84 121.3) scale(1.0659 1)" font-size="13.4" font-weight="bold" fill="#262626" stroke="#262626" stroke-width="0.47" stroke-linejoin="round">(Date: 20<tspan font-size="7.5" dy="-5.5">th</tspan><tspan dy="5.5"> May 2019)</tspan></text>
<text transform="translate(303.50 199.30) scale(1.0003 1)" font-size="24.42" font-weight="bold" font-style="normal" style='font-family:"Liberation Sans",Arial,sans-serif' fill="#fff" stroke="#fff" stroke-width="1.00" stroke-linejoin="round" >CLASS XII</text>
<text transform="translate(26.54 988.85) scale(0.9409 1)" font-size="12.94" font-weight="bold" font-style="normal" style='font-family:"Liberation Sans",Arial,sans-serif' fill="#fff" stroke="#fff" stroke-width="2.87" stroke-linejoin="round">NEET (UG) 2019 (PAPER ANALYSIS)</text><text transform="translate(26.54 988.85) scale(0.9409 1)" font-size="12.94" font-weight="bold" font-style="normal" style='font-family:"Liberation Sans",Arial,sans-serif' fill="#2a4aa0" stroke="#2a4aa0" stroke-width="0.74" stroke-linejoin="round" >NEET (UG) 2019 (PAPER ANALYSIS)</text>
<text transform="translate(242.36 988.85) scale(1.0639 1)" font-size="12.94" font-weight="bold" font-style="normal" style='font-family:"Liberation Sans",Arial,sans-serif' fill="#fff" stroke="#fff" stroke-width="2.54" stroke-linejoin="round">(ODISHA, KARNATAKA AND SILIGURI)</text><text transform="translate(242.36 988.85) scale(1.0639 1)" font-size="12.94" font-weight="bold" font-style="normal" style='font-family:"Liberation Sans",Arial,sans-serif' fill="#262626" stroke="#262626" stroke-width="0.66" stroke-linejoin="round" >(ODISHA, KARNATAKA AND SILIGURI)</text>
<text transform="translate(611.36 989.35) scale(0.9661 1)" font-size="13.81" font-weight="bold" font-style="normal" style='font-family:"Liberation Sans",Arial,sans-serif' fill="#fff" stroke="#fff" stroke-width="0.52" stroke-linejoin="round" filter="url(#sh)">Page No.: 04</text>
</svg>
</body></html>
